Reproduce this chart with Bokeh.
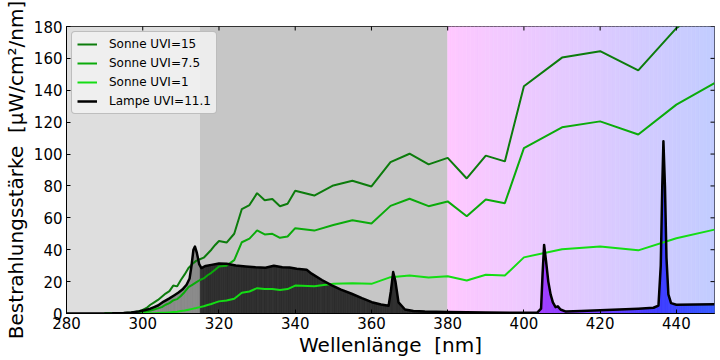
import numpy as np
from bokeh.plotting import figure
from bokeh.models import Range1d, Legend, LegendItem, FixedTicker
from bokeh.embed import file_html
from bokeh.resources import INLINE

# ---------------- data ----------------
x_ticks = [280, 300, 320, 340, 360, 380, 400, 420, 440]
y_ticks = [0, 20, 40, 60, 80, 100, 120, 140, 160, 180]
x_lim = (280, 450)
y_lim = (0, 180)
band_edges = [280, 315, 380, 450]   # UV-B | UV-A | visible

sun_wl = [290, 294, 297, 299, 300, 301, 302, 303, 304, 305, 306, 307, 308, 309, 310,
          311, 312, 313, 314, 315, 316, 317, 318, 319, 320, 322, 324, 326, 328, 330,
          332, 334, 336, 338, 340, 345, 350, 355, 360, 365, 370, 375, 380, 385, 390,
          395, 400, 410, 420, 430, 440, 450]
sun_uvi15 = [0, 0.1, 0.6, 1.5, 2.2, 3.5, 5.5, 7, 8.5, 10.5, 12.5, 14, 17.5, 17, 21,
             24.5, 28.5, 31, 33, 34, 35, 37.5, 40, 43, 45.5, 44.5, 50, 65.5, 68, 75.5,
             71, 71.8, 67.3, 68.8, 77, 74, 80.3, 83.3, 79.7, 94.9, 100.2, 93.5, 97.6, 84.7, 99,
             95.4, 142.5, 160.5, 164.5, 152.5, 179, 196]
sun_uvi75 = [0, 0, 0.2, 0.5, 0.8, 1.2, 1.8, 2.5, 3.2, 4, 5.5, 6.5, 8.2, 9, 11,
             13.5, 16.5, 18, 19.5, 21, 22, 24, 25.5, 27.5, 29.5, 30, 33.5, 44.7, 47, 52.1,
             49.6, 50, 47.5, 48.3, 53.5, 52, 55.5, 58.5, 56.5, 67.5, 72, 67.3, 70.3, 61, 71.5,
             69.2, 103.7, 116.8, 120.5, 112.3, 131, 144.5]
sun_uvi1 = [0, 0, 0, 0.05, 0.1, 0.1, 0.2, 0.2, 0.3, 0.4, 0.5, 0.7, 0.9, 1.1, 1.5,
            1.9, 2.4, 2.9, 3.4, 4, 4.6, 5.3, 6, 6.8, 7.6, 8.2, 9.3, 13, 13.8, 15.9,
            15.3, 15.4, 14.8, 15.3, 17.5, 17.1, 18.6, 19, 18.6, 22.8, 23.8, 22.6, 23.4, 20.7, 24.3,
            23.8, 35.2, 40.3, 42, 39.6, 47.2, 52.6]

lamp_wl = [280, 292, 295, 297, 299, 300.5, 302, 303, 304, 305.5, 307, 308.2, 309.3, 310.4,
           311.5, 312.3, 312.8, 313.3, 313.7, 314.2, 314.8, 315.4, 316.5, 318, 320, 322,
           324.4, 327, 329.6, 332.2, 334.4, 336.6, 338.5, 340.4, 343, 344.3, 347, 349.6,
           352, 354.8, 357.5, 360.1, 362.5, 364.5, 365.1, 365.7, 366.3, 367.1, 368.8, 371,
           374, 380, 390, 400, 403.5, 404.5, 404.9, 405.3, 405.8, 406.4, 407, 407.6, 408.3,
           408.9, 409.6, 411, 415, 420, 425, 430, 434, 435.3, 435.9, 436.3, 436.6, 437.0,
           437.4, 437.9, 438.6, 440, 445, 450]
lamp_val = [0, 0.1, 0.3, 0.7, 1.3, 2, 3, 4, 5, 7.5, 9.5, 11.3, 13, 15,
            18, 22, 30, 40, 42, 38, 31, 28.5, 29.8, 30.5, 31.3, 31.2,
            30.1, 29.5, 29, 28.7, 30, 29, 28.8, 28, 27.4, 25, 21, 17.6,
            15, 12.4, 9.6, 7.1, 5.6, 4.8, 14, 26, 20, 7, 2.5, 1.6,
            1.2, 0.9, 0.6, 0.5, 0.6, 3, 25, 43, 33, 20, 12, 7, 4,
            4.5, 2.5, 1.2, 1.5, 2.0, 2.5, 3, 3.6, 5, 30, 80, 108, 80,
            35, 12, 6.5, 5.5, 5.6, 5.8]

series_labels = ["Sonne UVI=15", "Sonne UVI=7.5", "Sonne UVI=1", "Lampe UVI=11.1"]
x_title = "Wellenlänge\u00a0 [nm]"
y_title = "Bestrahlungsstärke\u00a0 [µW/cm²/nm]"

# ---------------- styles ----------------
FONT = "DejaVu Sans"
sun_colors = ["#0c7c0c", "#0aab0a", "#14dd14"]
bg_uvb = "#dedede"
bg_uva = "#c6c6c6"
bg_vis_stops = [(380, (255, 200, 255)), (450, (194, 204, 255))]
fill_uvb = "#8a8a8a"
fill_uva = "#2e2e2e"
fill_vis_stops = [(380, (190, 0, 255)), (405, (160, 64, 255)), (436, (62, 62, 255)), (450, (56, 90, 255))]


def lerp_color(stops, w):
    if w <= stops[0][0]:
        c = stops[0][1]
    elif w >= stops[-1][0]:
        c = stops[-1][1]
    else:
        for (w0, c0), (w1, c1) in zip(stops[:-1], stops[1:]):
            if w0 <= w <= w1:
                t = (w - w0) / (w1 - w0)
                c = tuple(int(round(a + (b - a) * t)) for a, b in zip(c0, c1))
                break
    return "#%02x%02x%02x" % c


def lamp_fill_color(w):
    if w < band_edges[1]:
        return fill_uvb
    if w < band_edges[2]:
        return fill_uva
    return lerp_color(fill_vis_stops, w)


p = figure(width=720, height=360, output_backend="svg", toolbar_location=None,
           x_range=Range1d(*x_lim), y_range=Range1d(*y_lim),
           min_border_left=66, min_border_right=6, min_border_top=26, min_border_bottom=47)
p.background_fill_color = "white"
p.border_fill_color = "white"
p.grid.visible = False
p.outline_line_color = "black"
p.outline_line_width = 1

# background bands
p.quad(left=[band_edges[0]], right=[band_edges[1]], bottom=y_lim[0], top=y_lim[1],
       fill_color=bg_uvb, line_color=None)
p.quad(left=[band_edges[1]], right=[band_edges[2]], bottom=y_lim[0], top=y_lim[1],
       fill_color=bg_uva, line_color=None)
vis_left = np.arange(band_edges[2], band_edges[3], 1.0)
vis_cols = [lerp_color(bg_vis_stops, w + 0.5) for w in vis_left]
p.quad(left=vis_left, right=vis_left + 1.0, bottom=y_lim[0], top=y_lim[1],
       fill_color=vis_cols, line_color=vis_cols, line_width=0.6)

# lamp fill, coloured by wavelength
xs, ys, cols = [], [], []
for x0, x1, v0, v1 in zip(lamp_wl[:-1], lamp_wl[1:], lamp_val[:-1], lamp_val[1:]):
    n = max(1, int(np.ceil((x1 - x0) / 0.5)))
    for k in range(n):
        a = x0 + (x1 - x0) * k / n
        b = x0 + (x1 - x0) * (k + 1) / n
        va = v0 + (v1 - v0) * k / n
        vb = v0 + (v1 - v0) * (k + 1) / n
        xs.append([a, b, b, a])
        ys.append([0, 0, vb, va])
        cols.append(lamp_fill_color((a + b) / 2))
p.patches(xs, ys, fill_color=cols, line_color=cols, line_width=0.8)

# sun lines
r15 = p.line(sun_wl, sun_uvi15, line_color=sun_colors[0], line_width=2)
r75 = p.line(sun_wl, sun_uvi75, line_color=sun_colors[1], line_width=2)
r1 = p.line(sun_wl, sun_uvi1, line_color=sun_colors[2], line_width=2)
# lamp line
rl = p.line(lamp_wl, lamp_val, line_color="black", line_width=2.5, line_join="round")

# inward ticks on the top and right frame edges (clipped half-dashes)
p.scatter(x=[x_lim[1]] * len(y_ticks), y=y_ticks, marker="dash", size=8,
          line_color="black", line_width=1)
p.scatter(x=x_ticks, y=[y_lim[1]] * len(x_ticks), marker="dash", size=8, angle=np.pi / 2,
          line_color="black", line_width=1)

# axes
p.xaxis.ticker = FixedTicker(ticks=x_ticks)
p.yaxis.ticker = FixedTicker(ticks=y_ticks)
p.xaxis.axis_label = x_title
p.yaxis.axis_label = y_title
for ax in [p.xaxis[0], p.yaxis[0]]:
    ax.major_tick_in = 4
    ax.major_tick_out = 0
    ax.minor_tick_in = 0
    ax.minor_tick_out = 0
    ax.axis_line_color = "black"
    ax.major_tick_line_color = "black"
    ax.major_label_text_font = FONT
    ax.major_label_text_font_size = "15px"
    ax.major_label_text_color = "black"
    ax.axis_label_text_font = FONT
    ax.axis_label_text_font_style = "normal"
    ax.axis_label_text_color = "black"
    ax.axis_label_text_font_size = "20px"
p.xaxis.major_label_standoff = 3
p.xaxis.axis_label_standoff = 1
p.yaxis.major_label_standoff = 4
p.yaxis.axis_label_standoff = 3

legend = Legend(items=[LegendItem(label=series_labels[0], renderers=[r15]),
                       LegendItem(label=series_labels[1], renderers=[r75]),
                       LegendItem(label=series_labels[2], renderers=[r1]),
                       LegendItem(label=series_labels[3], renderers=[rl])],
                location="top_left")
legend.margin = 5
legend.padding = 5
legend.spacing = 5
legend.glyph_width = 20
legend.glyph_height = 14
legend.label_height = 14
legend.label_standoff = 12
legend.label_text_font = FONT
legend.label_text_font_size = "12px"
legend.label_text_color = "black"
legend.border_line_color = "#8c8c8c"
legend.border_line_width = 1
legend.background_fill_color = "#f2f2f2"
legend.background_fill_alpha = 0.85
try:
    legend.border_radius = 4
except Exception:
    pass
p.add_layout(legend)

open("out.html", "w").write(file_html(p, INLINE))
